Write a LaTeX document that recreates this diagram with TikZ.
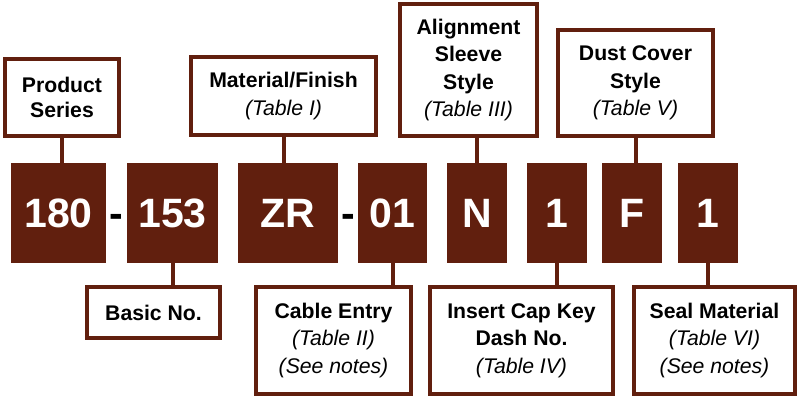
\documentclass[tikz,border=0pt]{standalone}
\usepackage{fontspec}
\setmainfont{Liberation Sans}
\usetikzlibrary{calc}
\definecolor{brn}{RGB}{97,31,14}
\newcommand\tabl[1]{{\mdseries\itshape #1}}
\begin{document}
\begin{tikzpicture}[x=1pt,y=-1pt,
  lbl/.style={draw=brn, line width=4pt, fill=white, align=center, inner sep=0pt,
    font=\fontsize{21.2}{27.5}\selectfont\bfseries},
  blk/.style={fill=brn, text=white, inner sep=0pt, minimum height=100pt,
    font=\fontsize{41}{41}\selectfont\bfseries},
  dsh/.style={inner sep=0pt, font=\fontsize{41}{41}\selectfont\bfseries, anchor=base},
  stem/.style={draw=brn, line width=4pt}]
\useasboundingbox (0,0) rectangle (801,397);
% code blocks
\node[blk, minimum width=95pt] (b180) at (58.5,213) {180};
\node[blk, minimum width=91pt] (b153) at (172.5,213) {153};
\node[blk, minimum width=100pt] (bZR) at (288,213) {ZR};
\node[blk, minimum width=69pt] (b01) at (392.5,213) {01};
\node[blk, minimum width=60pt] (bN) at (477,213) {N};
\node[blk, minimum width=60pt] (bA) at (557,213) {1};
\node[blk, minimum width=60pt] (bF) at (632,213) {F};
\node[blk, minimum width=60pt] (bB) at (708,213) {1};
% dashes
\node[dsh] (d1) at ($(b180.base east)!0.5!(b153.base west)$) {-};
\node[dsh] (d2) at ($(bZR.base east)!0.5!(b01.base west)$) {-};
% top labels
\node[lbl, minimum width=114pt, minimum height=77pt,
  font=\fontsize{21.2}{25}\selectfont\bfseries] (ps) at (62,97.5) {Product\\Series};
\node[lbl, minimum width=185pt, minimum height=78pt] (mf) at (283.5,96) {Material/Finish\\\tabl{(Table I)}};
\node[lbl, minimum width=137pt, minimum height=132pt] (al) at (468.5,70) {Alignment\\Sleeve\\Style\\\tabl{(Table III)}};
\node[lbl, minimum width=155pt, minimum height=106pt] (dc) at (635.5,83) {Dust Cover\\Style\\\tabl{(Table V)}};
% bottom labels
\node[lbl, minimum width=133pt, minimum height=51pt] (bn) at (153.5,312.5) {Basic No.};
\node[lbl, minimum width=155pt, minimum height=107pt] (ce) at (333.5,340.5) {Cable Entry\\\tabl{(Table II)}\\\tabl{(See notes)}};
\node[lbl, minimum width=183pt, minimum height=107pt] (ic) at (521.5,340.5) {Insert Cap Key\\Dash No.\\\tabl{(Table IV)}};
\node[lbl, minimum width=161pt, minimum height=107pt] (sm) at (714.5,340.5) {Seal Material\\\tabl{(Table VI)}\\\tabl{(See notes)}};
% stems
\draw[stem] (ps.south) -- (ps.south |- b180.north);
\draw[stem] (mf.south) -- (mf.south |- bZR.north);
\draw[stem] (bN.north) -- (bN.north |- al.south);
\draw[stem] (dc.south) -- (dc.south |- bF.north);
\draw[stem] (b153.south) -- (b153.south |- bn.north);
\draw[stem] (b01.south) -- (b01.south |- ce.north);
\draw[stem] (bA.south) -- (bA.south |- ic.north);
\draw[stem] (bB.south) -- (bB.south |- sm.north);
\end{tikzpicture}
\end{document}
